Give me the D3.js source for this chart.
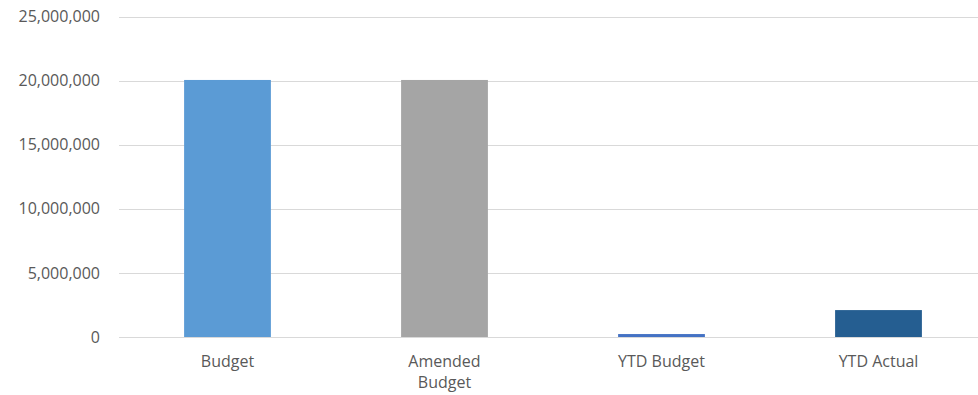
<!DOCTYPE html>
<html>
<head>
<meta charset="utf-8">
<script src="https://cdn.jsdelivr.net/npm/d3@7"></script>
<style>
  body { margin: 0; background: #fff; }
  text { font-family: "Open Sans", sans-serif; fill: #595959; }
</style>
</head>
<body>
<svg id="chart" width="978" height="395"></svg>
<script>
var categories = ["Budget", "Amended Budget", "YTD Budget", "YTD Actual"];
var values = [20050000, 20050000, 230000, 2100000];
var colors = ["#5B9BD5", "#A5A5A5", "#4472C4", "#255E91"];
var ticks = [0, 5000000, 10000000, 15000000, 20000000, 25000000];

var svg = d3.select("#chart");

var x = d3.scaleBand()
    .domain(categories)
    .range([119, 987])
    .paddingInner(0.6)
    .paddingOuter(0.3);

var y = d3.scaleLinear()
    .domain([0, 25000000])
    .range([337, 16.5]);

// gridlines
svg.append("g")
    .attr("class", "grid")
    .selectAll("line")
    .data(ticks)
    .enter()
    .append("line")
    .attr("x1", 119)
    .attr("x2", 978)
    .attr("y1", function(d) { return Math.round(y(d)) + 0.5; })
    .attr("y2", function(d) { return Math.round(y(d)) + 0.5; })
    .attr("stroke", "#d9d9d9")
    .attr("stroke-width", 1);

// y labels
svg.append("g")
    .selectAll("text")
    .data(ticks)
    .enter()
    .append("text")
    .attr("x", 100)
    .attr("y", function(d) { return y(d); })
    .attr("dy", "0.35em")
    .attr("text-anchor", "end")
    .style("font-size", "16px")
    .text(function(d) { return d3.format(",")(d); });

// bars
svg.append("g")
    .selectAll("rect")
    .data(values)
    .enter()
    .append("rect")
    .attr("x", function(d, i) { return x(categories[i]); })
    .attr("width", x.bandwidth())
    .attr("y", function(d) { return y(d); })
    .attr("height", function(d) { return y(0) - y(d); })
    .attr("fill", function(d, i) { return colors[i]; });

// x labels, wrapped like the original
var labels = svg.append("g")
    .selectAll("text")
    .data(categories)
    .enter()
    .append("text")
    .attr("text-anchor", "middle")
    .style("font-size", "16px")
    .attr("x", function(d) { return x(d) + x.bandwidth() / 2; })
    .attr("y", 367);

labels.each(function(d) {
    var t = d3.select(this);
    var lines = d === "Amended Budget" ? ["Amended", "Budget"] : [d];
    lines.forEach(function(l, i) {
        t.append("tspan")
            .attr("x", x(d) + x.bandwidth() / 2)
            .attr("dy", i === 0 ? 0 : 21)
            .text(l);
    });
});
</script>
</body>
</html>
